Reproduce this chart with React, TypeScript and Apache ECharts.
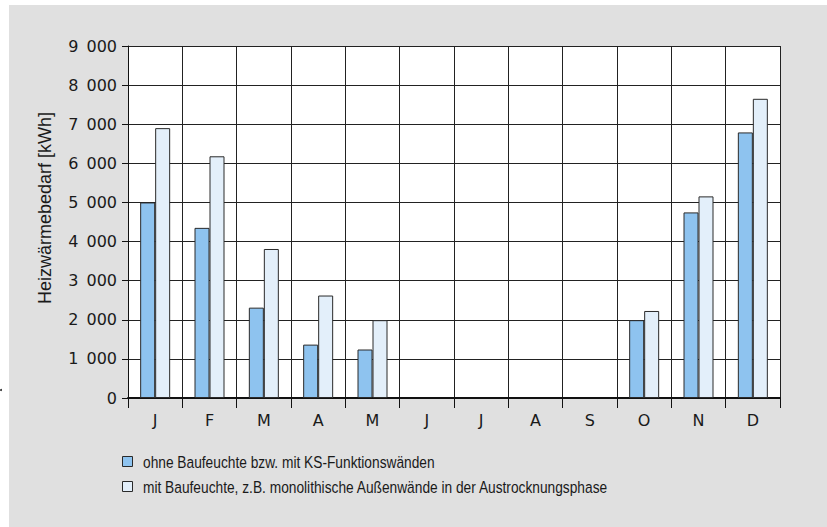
import React, { useEffect, useRef } from "react";
import * as echarts from "echarts";

const months = ["J", "F", "M", "A", "M", "J", "J", "A", "S", "O", "N", "D"];
const seriesNames = [
  "ohne Baufeuchte bzw. mit KS-Funktionswänden",
  "mit Baufeuchte, z.B. monolithische Außenwände in der Austrocknungsphase",
];
const withoutMoisture = [5000, 4350, 2310, 1365, 1240, 0, 0, 0, 0, 1990, 4745, 6790];
const withMoisture = [6900, 6180, 3810, 2620, 1990, 0, 0, 0, 0, 2225, 5155, 7650];
const seriesColors = ["#8ec3ef", "#e3effa"];
const yTitle = "Heizwärmebedarf [kWh]";

export default function App() {
  const ref = useRef<HTMLDivElement>(null);
  useEffect(() => {
    if (!ref.current) return;
    const chart = echarts.init(ref.current, null, { renderer: "svg" });
    const tickFont = { fontFamily: "DejaVu Sans", fontSize: 16, color: "#1a1a1a" };
    const hideZero = (arr: number[]) => arr.map((v) => (v === 0 ? null : v));
    const legendGraphics: any[] = [];
    seriesNames.forEach((name, i) => {
      legendGraphics.push({
        type: "rect",
        z: 10,
        shape: { x: 122.5, y: 456.5 + 25 * i, width: 10, height: 10 },
        style: { fill: seriesColors[i], stroke: "#2a2a2a", lineWidth: 1 },
      });
      legendGraphics.push({
        type: "text",
        z: 10,
        x: 143,
        y: 462 + 25 * i,
        scaleX: 0.833,
        style: {
          text: name,
          font: "16.5px 'Liberation Sans'",
          fill: "#1a1a1a",
          verticalAlign: "middle",
        },
      });
    });
    chart.setOption({
      animation: false,
      backgroundColor: "#ffffff",
      graphic: [
        { type: "rect", z: -10, shape: { x: 9, y: 5, width: 830, height: 530 }, style: { fill: "#e0e0e0" } },
        { type: "circle", z: -10, shape: { cx: 1, cy: 390, r: 1 }, style: { fill: "#333" } },
        {
          type: "text",
          z: 10,
          x: 45,
          y: 208,
          rotation: Math.PI / 2,
          style: {
            text: yTitle,
            font: "18px 'Liberation Sans'",
            fill: "#1a1a1a",
            align: "center",
            verticalAlign: "middle",
          },
        },
        ...legendGraphics,
      ],
      grid: {
        left: 128,
        right: 47,
        top: 46,
        bottom: 129,
        show: true,
        backgroundColor: "#ffffff",
        borderWidth: 0,
      },
      xAxis: {
        type: "category",
        data: months,
        boundaryGap: true,
        axisLine: { show: true, lineStyle: { color: "#111", width: 2 } },
        axisTick: { show: true, length: 10, lineStyle: { color: "#111" } },
        axisLabel: { ...tickFont, margin: 14 },
        splitLine: { show: true, lineStyle: { color: "#222", width: 1 } },
      },
      yAxis: {
        type: "value",
        min: 0,
        max: 9000,
        interval: 1000,
        axisLine: { show: true, lineStyle: { color: "#111", width: 1 } },
        axisTick: { show: true, length: 6, lineStyle: { color: "#111" } },
        axisLabel: {
          ...tickFont,
          margin: 11,
          formatter: (v: number) => (v >= 1000 ? `${Math.floor(v / 1000)}\u2002000` : `${v}`),
        },
        splitLine: { show: true, lineStyle: { color: "#222", width: 1 } },
      },
      series: [
        {
          name: seriesNames[0],
          type: "bar",
          data: hideZero(withoutMoisture),
          barWidth: 15,
          barGap: "0%",
          itemStyle: { color: seriesColors[0], borderColor: "#2a2a2a", borderWidth: 1 },
        },
        {
          name: seriesNames[1],
          type: "bar",
          data: hideZero(withMoisture),
          barWidth: 15,
          barGap: "0%",
          itemStyle: { color: seriesColors[1], borderColor: "#2a2a2a", borderWidth: 1 },
        },
      ],
    });
    return () => chart.dispose();
  }, []);
  return (
    <div
      ref={ref}
      style={{ position: "fixed", left: 0, top: 0, width: 827, height: 527 }}
    />
  );
}
